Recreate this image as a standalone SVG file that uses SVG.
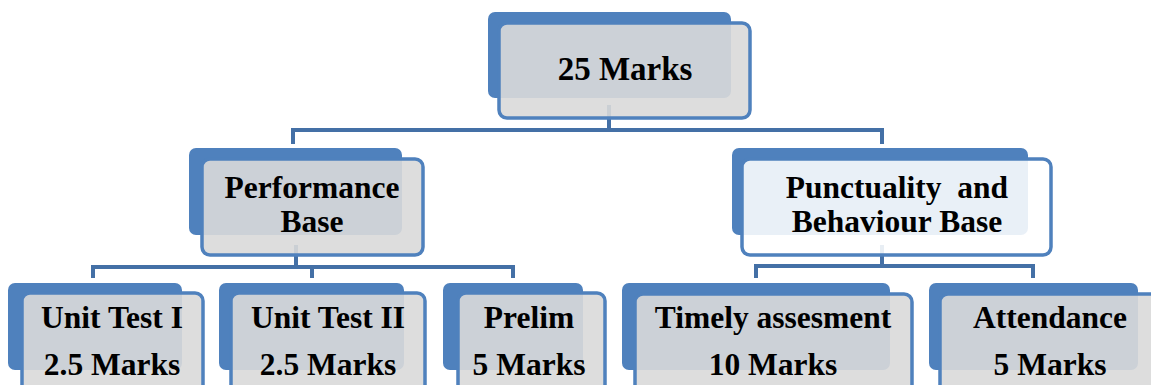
<svg xmlns="http://www.w3.org/2000/svg" width="1151" height="385" viewBox="0 0 1151 385">
<style>
.back{fill:#4f81bd;}
.front{fill:#d9d9d9;fill-opacity:0.9;stroke:#4f81bd;stroke-width:3.5;}
.front-w{fill:#ffffff;fill-opacity:0.88;stroke:#4f81bd;stroke-width:3.5;}
.lbl{font-family:"Liberation Serif","Times New Roman",serif;font-weight:bold;font-size:31.5px;fill:#000;text-anchor:middle;white-space:pre;}
.conn{fill:none;stroke:#4470a6;stroke-width:4;}
</style>
<rect width="1151" height="385" fill="#ffffff"/>
<g id="connectors">
<path class="conn" d="M609,105 V130 M293,144 V130 H882 V144"/>
<path class="conn" d="M296,245 V267 M93,278 V267 H513 V278 M312,267 V278"/>
<path class="conn" d="M882,245 V266 M756,278 V266 H1033 V278"/>
</g>
<g id="n-top">
<rect class="back" x="488" y="12" width="243" height="86" rx="7"/>
<rect class="front" x="499" y="23" width="251" height="95" rx="8"/>
<text class="lbl" x="625" y="80" style="font-size:33px">25 Marks</text>
</g>
<g id="n-performance">
<rect class="back" x="189" y="148" width="213" height="87" rx="7"/>
<rect class="front" x="202" y="159" width="221" height="96" rx="8"/>
<text class="lbl" x="312" y="198">Performance</text>
<text class="lbl" x="312" y="232">Base</text>
</g>
<g id="n-punctuality">
<rect class="back" x="732" y="148" width="296" height="87" rx="7"/>
<rect class="front-w" x="742" y="159" width="309" height="96" rx="8"/>
<text class="lbl" x="897" y="198">Punctuality  and</text>
<text class="lbl" x="897" y="232">Behaviour Base</text>
</g>
<g id="n-unit1">
<rect class="back" x="8" y="283" width="174" height="87" rx="7"/>
<rect class="front" x="22" y="293" width="181" height="110" rx="8"/>
<text class="lbl" x="112" y="328">Unit Test I</text>
<text class="lbl" x="112" y="375">2.5 Marks</text>
</g>
<g id="n-unit2">
<rect class="back" x="219" y="283" width="185" height="87" rx="7"/>
<rect class="front" x="231" y="293" width="194" height="110" rx="8"/>
<text class="lbl" x="328" y="328">Unit Test II</text>
<text class="lbl" x="328" y="375">2.5 Marks</text>
</g>
<g id="n-prelim">
<rect class="back" x="443" y="283" width="140" height="87" rx="7"/>
<rect class="front" x="458" y="293" width="147" height="110" rx="8"/>
<text class="lbl" x="529" y="328">Prelim</text>
<text class="lbl" x="529" y="375">5 Marks</text>
</g>
<g id="n-timely">
<rect class="back" x="622" y="283" width="268" height="87" rx="7"/>
<rect class="front" x="635" y="294" width="277" height="110" rx="8"/>
<text class="lbl" x="773" y="328">Timely assesment</text>
<text class="lbl" x="773" y="375">10 Marks</text>
</g>
<g id="n-attendance">
<rect class="back" x="929" y="283" width="209" height="87" rx="7"/>
<rect class="front" x="940" y="294" width="222" height="110" rx="8"/>
<text class="lbl" x="1050" y="328">Attendance</text>
<text class="lbl" x="1050" y="375">5 Marks</text>
</g>
</svg>
